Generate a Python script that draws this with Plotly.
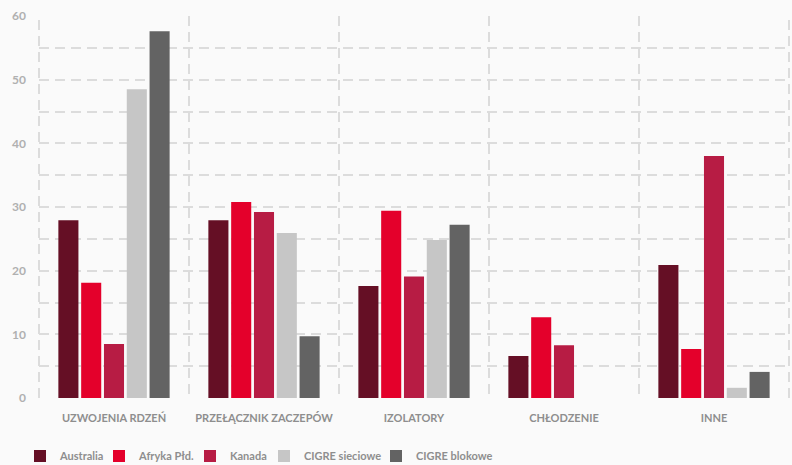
import plotly.graph_objects as go

categories = ["UZWOJENIA RDZEŃ", "PRZEŁĄCZNIK ZACZEPÓW", "IZOLATORY", "CHŁODZENIE", "INNE"]
series_names = ["Australia", "Afryka Płd.", "Kanada", "CIGRE sieciowe", "CIGRE blokowe"]
australia = [27.9, 27.9, 17.6, 6.6, 20.9]
afryka = [18.1, 30.8, 29.4, 12.7, 7.7]
kanada = [8.5, 29.2, 19.1, 8.3, 38.0]
cigre_sieciowe = [48.5, 25.9, 24.8, None, 1.6]
cigre_blokowe = [57.6, 9.7, 27.2, None, 4.1]
colors = ["#650F25", "#E4002B", "#B71C44", "#C6C6C6", "#636363"]
y_ticks = [0, 10, 20, 30, 40, 50, 60]

values = [australia, afryka, kanada, cigre_sieciowe, cigre_blokowe]
legend_ids = ["legend", "legend2", "legend3", "legend4", "legend5"]
legend_x_px = [20, 99, 190, 264, 376]

font_family = "Lato, Open Sans, sans-serif"
grid_col = "#DCDCDC"
label_col = "#8E8E8E"
dash = "10px,6px"

fig = go.Figure()
for name, vals, col, lid in zip(series_names, values, colors, legend_ids):
    fig.add_trace(go.Bar(name=name, x=categories, y=vals, marker_color=col,
                         marker_line_width=0, legend=lid))

layout_legends = {}
for lid, xp in zip(legend_ids, legend_x_px):
    layout_legends[lid] = dict(
        orientation="h", xref="container", yref="container",
        x=xp / 792, xanchor="left", y=9 / 465, yanchor="middle",
        font=dict(family=font_family, size=11, color=label_col, weight="bold"),
        bgcolor="rgba(0,0,0,0)", borderwidth=0,
    )

fig.update_layout(
    width=792, height=465,
    margin=dict(l=39, r=3, t=16, b=67, autoexpand=False),
    paper_bgcolor="#FAFAFA", plot_bgcolor="#FAFAFA",
    barmode="group", bargap=0.24, bargroupgap=0.12,
    font=dict(family=font_family, size=11, color=label_col),
    showlegend=True,
    **layout_legends,
)
for xe in [0, 1]:
    fig.add_shape(type="line", xref="paper", yref="paper", x0=xe, x1=xe, y0=0, y1=1,
                  line=dict(color=grid_col, width=2, dash=dash), layer="below")

fig.update_xaxes(
    type="category", tickson="boundaries", showgrid=True, gridcolor=grid_col,
    griddash=dash, gridwidth=2, ticks="", showline=False, zeroline=False,
    range=[-0.5, 4.5], ticklabelstandoff=12,
    tickfont=dict(family=font_family, size=11, color=label_col, weight="bold"),
)
fig.update_yaxes(
    range=[0, 60], tickvals=y_ticks, showgrid=True, gridcolor=grid_col,
    griddash=dash, gridwidth=2, zeroline=False, showline=False, ticks="",
    ticklabelstandoff=12,
    minor=dict(dtick=5, showgrid=True, gridcolor=grid_col, griddash=dash, gridwidth=2),
    tickfont=dict(family=font_family, size=12, color="#B0B0B0", weight="bold"),
)

fig.write_html("out.html")
